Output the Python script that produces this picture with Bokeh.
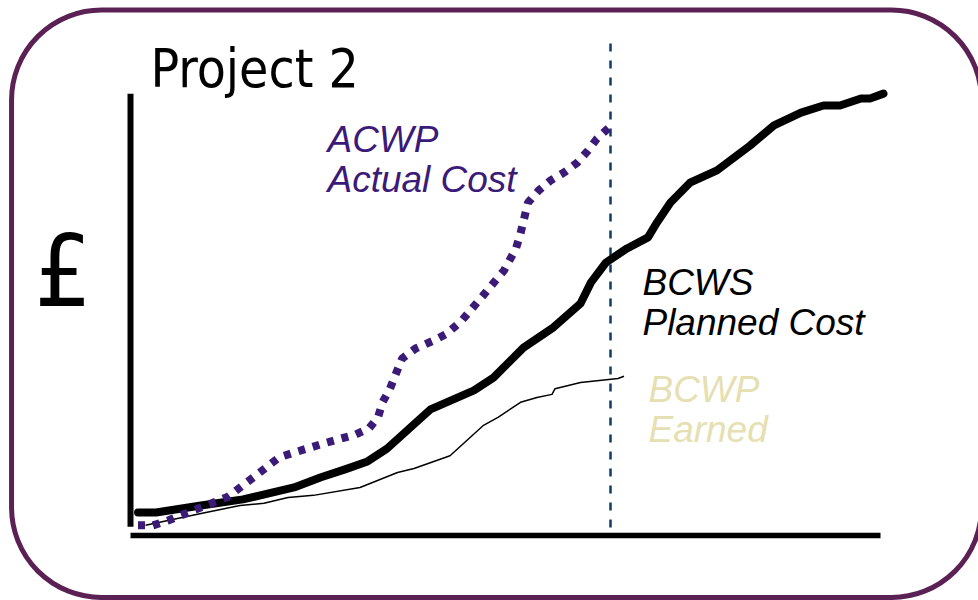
from bokeh.plotting import figure
from bokeh.models import Range1d, Label, BoxAnnotation
from bokeh.embed import file_html
from bokeh.resources import INLINE

# Earned value curves for Project 2 (time in weeks, cost in £k)
bcws_weeks = [0.5, 1.7, 4.7, 7.5, 10.9, 12.7, 14.3, 15.8, 17.1, 20.0, 22.9, 24.2,
              26.2, 28.2, 30.0, 30.7, 31.7, 33.1, 34.5, 35.1, 36.0, 37.3, 39.1,
              41.3, 42.9, 44.7, 46.2, 47.3, 48.7, 49.3, 50.2]
bcws_cost = [5.2, 5.2, 6.8, 8.2, 10.9, 13.2, 15.0, 16.8, 19.7, 28.6, 32.9, 35.8,
             42.6, 47.2, 52.6, 57.4, 61.9, 65.1, 67.6, 71.0, 75.5, 80.0, 82.8,
             88.4, 93.0, 95.9, 97.5, 97.5, 99.1, 99.1, 100.2]

bcwp_weeks = [1.0, 4.7, 7.3, 8.9, 10.5, 12.2, 15.3, 17.8, 18.9, 21.3, 23.5, 24.5,
              26.0, 27.1, 28.1, 28.3, 30.0, 32.5, 32.9]
bcwp_cost = [2.3, 5.0, 6.8, 7.3, 8.6, 9.1, 10.9, 14.3, 15.2, 18.1, 24.9, 26.8,
             30.2, 31.3, 32.0, 33.3, 34.7, 35.6, 36.1]

acwp_weeks = [0.5, 1.5, 2.5, 4.5, 6.5, 8.2, 9.9, 10.9, 12.9, 15.0, 15.9, 16.5,
              16.8, 17.3, 18.1, 19.0, 20.2, 21.1, 22.1, 23.5, 24.9, 25.7, 26.0,
              26.5, 27.2, 28.0, 28.9, 29.8, 30.5, 31.1, 31.9]
acwp_cost = [2.3, 2.3, 3.4, 6.1, 8.8, 13.2, 17.7, 18.8, 20.9, 22.9, 24.3, 26.8,
             30.2, 33.3, 40.1, 42.4, 44.2, 45.8, 48.8, 54.4, 60.1, 65.1, 68.5,
             75.5, 78.2, 80.5, 82.3, 84.6, 87.3, 90.0, 92.5]

status_week = 32.0

PURPLE = "#3b1a78"
FRAME = "#5b2155"

p = figure(width=978, height=600,
           x_range=Range1d(-8.667, 56.533), y_range=Range1d(-14.74, 121.32),
           min_border=0, toolbar_location=None, output_backend="svg",
           x_axis_location=None, y_axis_location=None)
p.grid.visible = False
p.outline_line_color = None
p.background_fill_color = "white"

# rounded frame around the panel
p.add_layout(BoxAnnotation(left=-7.93, right=56.73, top=119.16, bottom=-14.06,
                           fill_alpha=0, line_color=FRAME, line_alpha=1.0,
                           line_width=5, border_radius=90))

# hand-drawn style axes
p.segment(x0=[0], y0=[2.0], x1=[0], y1=[100.2], line_width=6, color="black")
p.segment(x0=[0], y0=[0], x1=[50], y1=[0], line_width=5.5, color="black")

# status date marker
p.segment(x0=[status_week], y0=[1.8], x1=[status_week], y1=[112.9],
          line_width=2.5, color="#0d3b6a", line_dash="8 9")

p.line(bcwp_weeks, bcwp_cost, line_width=1.5, color="black", line_join="round")
p.line(bcws_weeks, bcws_cost, line_width=8, color="black",
       line_join="round", line_cap="round")
p.line(acwp_weeks, acwp_cost, line_width=8, color=PURPLE, line_dash="7 8")

def add_text(x, y, txt, color, size, font="Liberation Sans", style="italic"):
    p.add_layout(Label(x=x, y=y, text=txt, text_color=color,
                       text_font=font, text_font_size=size,
                       text_font_style=style, text_baseline="alphabetic"))

add_text(1.33, 105.9, "Project 2", "black", "53px", font="DejaVu Sans Condensed", style="normal")
add_text(-6.4, 59.9, "£", "black", "100px", font="DejaVu Sans Condensed", style="normal")

add_text(13.13, 89.8, "ACWP", PURPLE, "37px")
add_text(13.13, 80.7, "Actual Cost", PURPLE, "37px")
add_text(34.13, 57.4, "BCWS", "black", "37px")
add_text(34.13, 48.3, "Planned Cost", "black", "37px")
add_text(34.53, 33.1, "BCWP", "#e6dfb2", "37px")
add_text(34.53, 24.0, "Earned", "#e6dfb2", "37px")

open("out.html", "w").write(file_html(p, INLINE))
